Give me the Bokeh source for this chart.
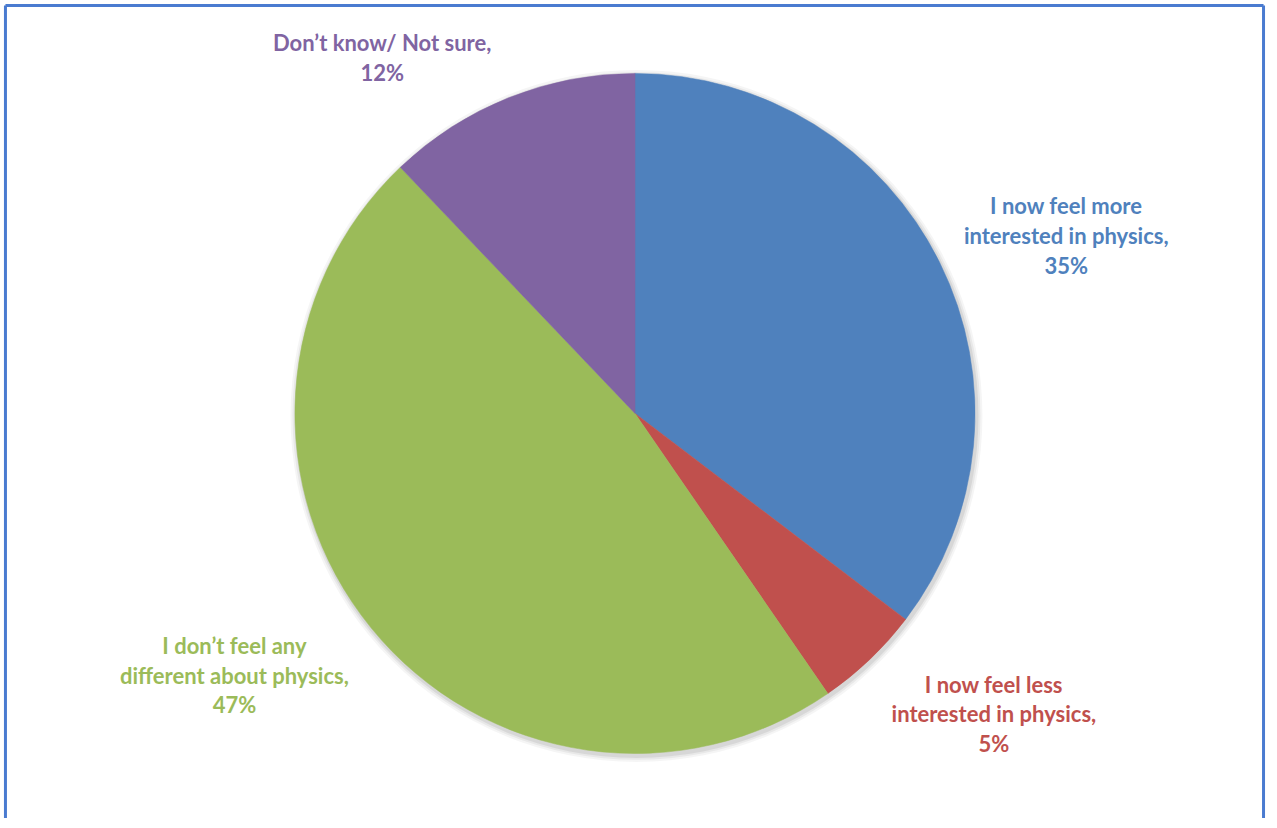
import math
from bokeh.plotting import figure
from bokeh.models import Range1d, ColumnDataSource
from bokeh.core.properties import value
from bokeh.embed import file_html
from bokeh.resources import INLINE

# ---- data ----
categories = [
    "I now feel more\ninterested in physics,",
    "I now feel less\ninterested in physics,",
    "I don\u2019t feel any\ndifferent about physics,",
    "Don\u2019t know/ Not sure,",
]
percent = [35, 5, 47, 12]
colors = ["#4F81BD", "#C0504D", "#9BBB59", "#8064A2"]

# ---- layout (data units = reference pixels) ----
W, H = 1266, 818
REF_W, REF_H = 1277, 828

def Y(py):
    return REF_H - py

p = figure(width=W, height=H, output_backend="svg", toolbar_location=None,
           x_range=Range1d(0, REF_W), y_range=Range1d(0, REF_H),
           min_border=0, background_fill_color="white", border_fill_color="white")
p.axis.visible = False
p.grid.visible = False
p.outline_line_color = None

cx, cy, r = 640, Y(418), 343

# soft shadow
for k, a in [(6, 0.04), (4, 0.05), (2, 0.07)]:
    p.circle(x=cx + 1.5, y=cy - 2.5, radius=r + k, fill_color="black", fill_alpha=a,
             line_color=None)

total = sum(percent)
starts, ends = [], []
ang = math.pi / 2
for v in percent:
    starts.append(ang)
    ang -= 2 * math.pi * v / total
    ends.append(ang)

src = ColumnDataSource(dict(start=starts, end=ends, color=colors))
p.wedge(x=cx, y=cy, radius=r, start_angle="start", end_angle="end", direction="clock",
        fill_color="color", line_color="color", line_width=0.5, source=src)

label_pos = [(1075, 238), (1002, 722), (236, 683), (385, 58)]
texts = [f"{c}\n{v}%" for c, v in zip(categories, percent)]
lsrc = ColumnDataSource(dict(x=[q[0] for q in label_pos], y=[Y(q[1]) for q in label_pos],
                             text=texts, color=colors))
p.text(x="x", y="y", text="text", text_color="color", source=lsrc,
       text_font=value("Lato"), text_font_style="bold", text_font_size="22px",
       text_align="center", text_baseline="middle", text_line_height=1.1)

# chart frame (top, left, right edges visible)
p.multi_line(xs=[[5, 5], [5, 1274], [1274, 1274]],
             ys=[[Y(840), Y(5)], [Y(5), Y(5)], [Y(5), Y(840)]],
             line_color="#4A7BD0", line_width=3)

open("out.html", "w").write(file_html(p, INLINE))
